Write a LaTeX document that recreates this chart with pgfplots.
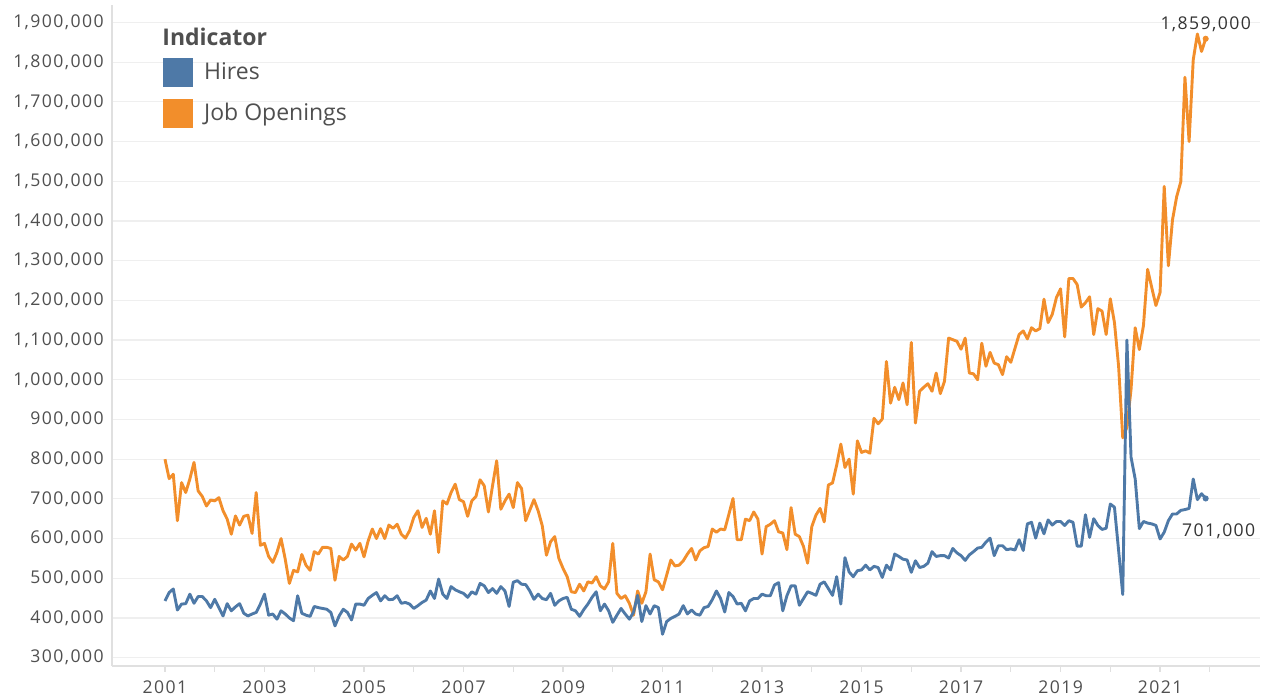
\documentclass[border=0pt]{standalone}
\usepackage{pgfplots}
\pgfplotsset{compat=1.18}
\usepackage{pgfplotstable}
\usepackage{fontspec}
\setmainfont{Open Sans}
\newfontfamily\tickfont[LetterSpace=8]{Open Sans}
\definecolor{hires}{HTML}{4E79A7}
\definecolor{openings}{HTML}{F28E2B}
\definecolor{txt}{HTML}{4F4F4F}
\definecolor{gridc}{HTML}{EFEFEF}
\definecolor{axisc}{HTML}{E0E0E0}

% month index (0 = Jan 2001), values in thousands
\pgfplotstableread[row sep=\\]{
m hires openings\\
0 443 800\\ 1 464 751\\ 2 473 762\\ 3 420 645\\ 4 435 741\\ 5 436 716\\
6 460 750\\ 7 437 792\\ 8 454 720\\ 9 454 706\\ 10 443 682\\ 11 426 697\\
12 447 695\\ 13 426 703\\ 14 405 670\\ 15 436 649\\ 16 418 611\\ 17 428 657\\
18 436 634\\ 19 412 656\\ 20 405 659\\ 21 410 613\\ 22 414 716\\ 23 435 583\\
24 460 588\\ 25 407 555\\ 26 410 540\\ 27 397 565\\ 28 418 600\\ 29 410 548\\
30 400 487\\ 31 393 520\\ 32 456 516\\ 33 412 560\\ 34 407 533\\ 35 404 520\\
36 429 567\\ 37 426 561\\ 38 424 578\\ 39 422 578\\ 40 414 575\\ 41 380 495\\
42 405 555\\ 43 422 546\\ 44 414 555\\ 45 395 586\\ 46 435 571\\ 47 435 588\\
48 432 554\\ 49 449 594\\ 50 457 624\\ 51 464 600\\ 52 443 625\\ 53 456 600\\
54 446 634\\ 55 447 626\\ 56 456 636\\ 57 437 611\\ 58 439 601\\ 59 435 620\\
60 424 653\\ 61 431 670\\ 62 439 628\\ 63 445 651\\ 64 468 611\\ 65 449 670\\
66 498 565\\ 67 460 695\\ 68 449 687\\ 69 479 716\\ 70 471 737\\ 71 466 698\\
72 462 693\\ 73 452 656\\ 74 466 695\\ 75 460 706\\ 76 487 748\\ 77 481 733\\
78 464 667\\ 79 474 733\\ 80 462 796\\ 81 479 674\\ 82 468 695\\ 83 429 712\\
84 490 678\\ 85 494 741\\ 86 485 726\\ 87 484 645\\ 88 468 672\\ 89 447 698\\
90 460 670\\ 91 449 632\\ 92 446 558\\ 93 462 592\\ 94 432 605\\ 95 443 550\\
96 449 525\\ 97 452 504\\ 98 422 466\\ 99 418 464\\ 100 404 485\\ 101 421 468\\
102 435 491\\ 103 452 488\\ 104 466 504\\ 105 418 481\\ 106 435 473\\ 107 418 491\\
108 389 588\\ 109 407 462\\ 110 424 449\\ 111 410 456\\ 112 397 437\\ 113 414 407\\
114 457 468\\ 115 391 437\\ 116 431 466\\ 117 410 561\\ 118 431 496\\ 119 426 491\\
120 359 471\\ 121 391 508\\ 122 399 546\\ 123 404 531\\ 124 410 533\\ 125 431 544\\
126 410 561\\ 127 420 575\\ 128 410 546\\ 129 407 569\\ 130 426 577\\ 131 429 580\\
132 446 624\\ 133 468 616\\ 134 449 624\\ 135 415 622\\ 136 464 661\\ 137 454 701\\
138 435 597\\ 139 437 597\\ 140 418 649\\ 141 443 645\\ 142 449 667\\ 143 449 649\\
144 460 561\\ 145 456 630\\ 146 456 636\\ 147 483 645\\ 148 489 617\\ 149 418 614\\
150 456 572\\ 151 481 678\\ 152 481 611\\ 153 432 605\\ 154 449 580\\ 155 466 538\\
156 462 630\\ 157 457 659\\ 158 485 676\\ 159 491 642\\ 160 474 735\\ 161 457 740\\
162 504 785\\ 163 435 838\\ 164 552 779\\ 165 516 800\\ 166 504 712\\ 167 519 846\\
168 521 817\\ 169 533 821\\ 170 521 815\\ 171 530 903\\ 172 527 889\\ 173 502 901\\
174 533 1046\\ 175 521 941\\ 176 561 981\\ 177 555 950\\ 178 548 992\\ 179 546 937\\
180 515 1094\\ 181 544 891\\ 182 527 971\\ 183 530 981\\ 184 538 990\\ 185 567 971\\
186 555 1017\\ 187 557 965\\ 188 557 996\\ 189 551 1105\\ 190 575 1101\\ 191 564 1097\\
192 557 1077\\ 193 545 1105\\ 194 559 1017\\ 195 567 1015\\ 196 576 1000\\ 197 578 1092\\
198 591 1034\\ 199 601 1069\\ 200 557 1042\\ 201 582 1038\\ 202 582 1013\\ 203 572 1058\\
204 574 1044\\ 205 571 1079\\ 206 597 1114\\ 207 570 1123\\ 208 637 1103\\ 209 641 1131\\
210 601 1123\\ 211 639 1129\\ 212 612 1203\\ 213 647 1144\\ 214 634 1165\\ 215 643 1207\\
216 643 1229\\ 217 633 1108\\ 218 645 1255\\ 219 641 1255\\ 220 581 1240\\ 221 581 1183\\
222 660 1194\\ 223 603 1209\\ 224 650 1114\\ 225 633 1179\\ 226 623 1173\\ 227 626 1114\\
228 687 1204\\ 229 679 1144\\ 230 570 1034\\ 231 459 854\\ 232 1100 880\\ 233 805 976\\
234 750 1131\\ 235 625 1076\\ 236 643 1137\\ 237 639 1278\\ 238 637 1232\\ 239 633 1187\\
240 599 1220\\ 241 616 1487\\ 242 645 1287\\ 243 662 1403\\ 244 662 1461\\ 245 671 1499\\
246 673 1762\\ 247 676 1600\\ 248 750 1806\\ 249 698 1871\\ 250 713 1827\\ 251 701 1859\\
}\jolts

\begin{document}
\begin{tikzpicture}
\useasboundingbox (-56pt,-16pt) rectangle (577pt,333pt);
\begin{axis}[
    at={(0,0)}, anchor=south west,
    scale only axis,
    width=574pt, height=330.5pt,
    xmin=-12.78, xmax=264.1,
    ymin=279, ymax=1944,
    axis lines*=left,
    axis line style={-, draw=axisc, line width=0.6pt},
    ymajorgrids,
    grid style={draw=gridc, line width=0.6pt},
    tick align=outside,
    major tick length=3pt, minor tick length=3pt,
    xtick style={draw=axisc, line width=0.6pt},
    ytick style={draw=none},
    xtick={0,24,...,240},
    minor xtick={12,36,...,252},
    xticklabels={2001,2003,2005,2007,2009,2011,2013,2015,2017,2019,2021},
    ytick={300,400,...,1900},
    /pgf/number format/.cd, fixed, precision=0, 1000 sep={,}, assume math mode=true,
    /pgfplots/.cd,
    yticklabel={\pgfmathprintnumber{\tick},000},
    tick label style={font=\tickfont\fontsize{8.8}{10}\selectfont, text=txt},
    y tick label style={inner sep=1pt},
    x tick label style={inner sep=4pt},
    legend style={at={(0.0444,0.92)}, anchor=north west, draw=none, fill=none,
        inner sep=0pt, row sep=6pt, column sep=4.5pt,
        font=\fontsize{11.5}{13}\selectfont, text=txt,
        nodes={inner sep=1pt}},
    legend cell align=left,
    legend image code/.code={\fill[#1] (0pt,-7pt) rectangle (14.5pt,7pt);},
]
\addlegendimage{hires}\addlegendentry{Hires}
\addlegendimage{openings}\addlegendentry{Job Openings}

\addplot[openings, line width=1.45pt, line join=round, forget plot] table[x=m, y=openings]{\jolts};
\addplot[hires, line width=1.45pt, line join=round, forget plot] table[x=m, y=hires]{\jolts};
\addplot[only marks, mark=*, mark size=1.3pt, openings, forget plot] coordinates {(251,1859)};
\addplot[only marks, mark=*, mark size=1.3pt, hires, forget plot] coordinates {(251,701)};

\node[anchor=base, yshift=4.4pt, font=\tickfont\fontsize{8.8}{10}\selectfont, text=black!80] at (axis cs:251,1859) {1,859,000};
\node[anchor=base, xshift=6.5pt, yshift=-19.25pt, font=\tickfont\fontsize{8.8}{10}\selectfont, text=black!80] at (axis cs:251,701) {701,000};
\end{axis}
\node[anchor=base west, inner sep=0pt, font=\bfseries\fontsize{11.5}{13}\selectfont, text=txt] at (25pt,310pt) {Indicator};
\end{tikzpicture}
\end{document}
